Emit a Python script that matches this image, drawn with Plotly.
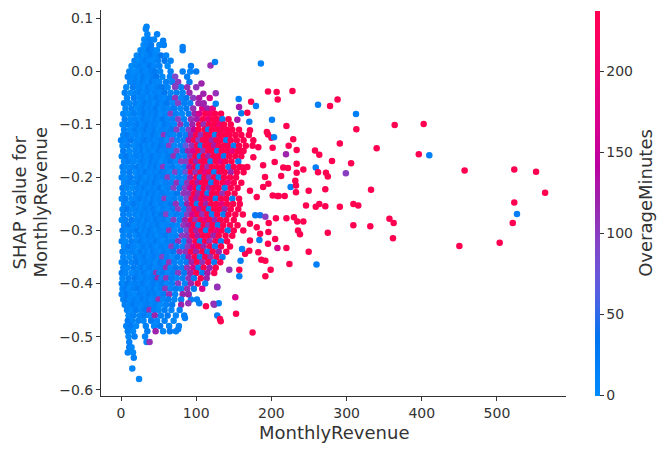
import math
import plotly.graph_objects as go

# ---------------- data ----------------
# Dense part of the cloud, grouped by SHAP value level (one row per level)
ROW_SHAP = [0.08, 0.07, 0.06, 0.05, 0.04, 0.03, 0.02, 0.01, 0.00,
            -0.01, -0.02, -0.03, -0.04, -0.05, -0.06, -0.07, -0.08, -0.09, -0.10,
            -0.11, -0.12, -0.13, -0.14, -0.15, -0.16, -0.17, -0.18, -0.19, -0.20,
            -0.21, -0.22, -0.23, -0.24, -0.25, -0.26, -0.27, -0.28, -0.29, -0.30,
            -0.31, -0.32, -0.33, -0.34, -0.35, -0.36, -0.37, -0.38, -0.39, -0.40,
            -0.41, -0.42, -0.43, -0.44, -0.45, -0.46, -0.47, -0.48, -0.49, -0.50,
            -0.51, -0.52, -0.53, -0.54, -0.56, -0.58]

ROW_REVENUE = [
    [33],
    [35, 48],
    [31, 38, 44],
    [30, 34, 40, 51, 57],
    [26, 32, 37, 43, 48, 82],
    [21, 27, 31, 35, 40, 46, 53, 60],
    [18, 24, 29, 33, 37, 42, 49, 58, 66],
    [14, 21, 27, 31, 35, 39, 44, 51, 62, 93],
    [11, 17, 23, 28, 32, 36, 40, 45, 52, 66, 82, 92, 100],
    [9, 15, 21, 26, 30, 34, 38, 42, 47, 55, 65, 72, 88],
    [12, 19, 25, 29, 33, 37, 41, 45, 51, 60, 68, 76, 91],
    [7, 16, 23, 28, 32, 36, 40, 44, 49, 55, 62, 72, 80, 88, 100],
    [5, 13, 20, 26, 30, 34, 38, 42, 46, 51, 58, 66, 74, 82, 91],
    [8, 17, 24, 28, 32, 36, 40, 44, 48, 53, 59, 65, 72, 80, 87, 96, 104, 118],
    [4, 11, 19, 25, 29, 33, 37, 41, 45, 50, 55, 61, 69, 76, 84, 92, 103, 110],
    [6, 14, 21, 27, 31, 35, 39, 43, 47, 52, 57, 64, 71, 79, 87, 96, 108, 115, 122],
    [3, 10, 17, 24, 28, 32, 36, 40, 44, 48, 53, 59, 66, 73, 81, 90, 98, 104, 112, 118, 125, 133],
    [5, 13, 20, 26, 30, 34, 38, 42, 46, 50, 56, 62, 69, 76, 84, 93, 101, 109, 116, 122, 128, 135, 143],
    [2, 9, 16, 23, 28, 32, 36, 40, 44, 48, 53, 58, 64, 71, 79, 87, 95, 104, 110, 117, 124, 131, 137, 146],
    [4, 12, 19, 25, 30, 34, 38, 42, 46, 50, 55, 61, 67, 74, 82, 90, 97, 103, 111, 116, 121, 128, 134, 141, 148, 157],
    [3, 8, 15, 22, 27, 31, 35, 39, 43, 47, 52, 57, 63, 70, 78, 86, 93, 100, 106, 113, 119, 125, 131, 138, 144, 152, 160, 170],
    [0, 6, 13, 20, 26, 30, 34, 38, 42, 46, 50, 55, 61, 68, 75, 83, 90, 97, 103, 109, 115, 121, 127, 133, 140, 146, 154, 163],
    [2, 9, 17, 23, 28, 32, 36, 40, 44, 48, 53, 58, 64, 71, 79, 86, 94, 101, 106, 112, 118, 124, 130, 137, 143, 150, 157, 166, 175],
    [3, 11, 19, 25, 29, 33, 37, 41, 45, 50, 55, 61, 67, 74, 82, 89, 96, 103, 109, 116, 122, 128, 134, 141, 148, 155, 163],
    [1, 7, 14, 21, 27, 31, 35, 39, 43, 47, 52, 57, 63, 70, 77, 85, 92, 99, 105, 110, 116, 123, 130, 137, 144, 152, 160],
    [4, 10, 17, 24, 29, 33, 37, 41, 45, 49, 54, 60, 66, 73, 80, 87, 94, 100, 107, 113, 119, 126, 133, 139, 147, 156],
    [2, 8, 15, 22, 27, 31, 35, 39, 43, 47, 51, 56, 62, 69, 76, 84, 91, 98, 103, 109, 115, 121, 128, 135, 143, 150, 158, 168],
    [3, 11, 19, 25, 29, 33, 37, 41, 45, 49, 54, 59, 65, 72, 79, 86, 93, 99, 106, 112, 118, 124, 131, 138, 146, 154, 163],
    [1, 6, 13, 21, 27, 31, 35, 39, 43, 47, 51, 56, 62, 69, 77, 85, 92, 100, 105, 111, 117, 124, 130, 137, 145, 153],
    [4, 10, 17, 24, 29, 33, 37, 41, 45, 49, 54, 60, 67, 74, 81, 88, 95, 102, 108, 114, 120, 127, 135, 142, 150, 160],
    [2, 8, 15, 22, 27, 31, 35, 39, 43, 47, 52, 57, 63, 70, 78, 85, 92, 99, 104, 110, 117, 123, 130, 138, 146, 155],
    [3, 11, 19, 25, 29, 33, 37, 41, 45, 50, 55, 61, 68, 75, 83, 90, 97, 103, 109, 115, 121, 128, 135, 142, 151],
    [1, 6, 14, 21, 27, 31, 35, 39, 43, 47, 52, 58, 64, 71, 79, 87, 94, 100, 107, 113, 119, 126, 133, 140, 148, 157],
    [4, 10, 17, 24, 29, 33, 37, 41, 45, 49, 54, 60, 66, 73, 81, 88, 95, 101, 107, 113, 120, 127, 134, 141, 149, 158],
    [2, 8, 15, 22, 27, 31, 35, 39, 43, 47, 51, 56, 62, 69, 76, 84, 91, 98, 104, 111, 117, 124, 131, 138, 146, 156],
    [3, 11, 19, 25, 29, 33, 37, 41, 45, 49, 54, 60, 67, 74, 81, 88, 95, 102, 108, 115, 121, 128, 136, 143, 152, 162],
    [1, 6, 14, 21, 27, 31, 35, 39, 43, 47, 52, 57, 63, 70, 78, 85, 93, 99, 106, 112, 118, 125, 132, 140, 150],
    [4, 10, 17, 24, 29, 33, 37, 41, 45, 50, 55, 61, 68, 75, 83, 90, 97, 103, 110, 116, 122, 129, 136, 145, 155],
    [2, 8, 15, 22, 27, 31, 35, 39, 43, 47, 52, 58, 64, 71, 79, 87, 94, 100, 107, 113, 120, 127, 134, 142, 150],
    [3, 11, 19, 25, 29, 33, 37, 41, 45, 49, 54, 60, 66, 73, 81, 88, 95, 102, 109, 116, 123, 130, 139, 148],
    [1, 6, 14, 21, 27, 31, 35, 39, 43, 47, 51, 56, 62, 69, 76, 84, 91, 99, 105, 112, 118, 126, 133, 141],
    [4, 10, 17, 24, 29, 33, 37, 41, 45, 49, 54, 60, 67, 74, 82, 89, 96, 103, 110, 118, 125, 133, 145],
    [2, 8, 15, 22, 27, 31, 35, 39, 43, 47, 52, 57, 63, 70, 78, 86, 93, 100, 108, 115, 122, 130, 140],
    [3, 11, 19, 25, 29, 33, 37, 41, 45, 50, 55, 61, 68, 75, 83, 90, 98, 105, 112, 119, 127, 135],
    [1, 6, 14, 21, 27, 31, 35, 39, 43, 47, 52, 58, 64, 71, 79, 87, 94, 101, 108, 116, 124, 132],
    [3, 9, 17, 24, 29, 33, 37, 41, 45, 49, 54, 60, 66, 73, 81, 88, 96, 103, 110, 118, 126],
    [1, 6, 14, 21, 27, 31, 35, 39, 43, 47, 51, 56, 62, 69, 76, 84, 92, 100, 108, 115, 124],
    [2, 10, 18, 25, 29, 33, 37, 41, 45, 49, 54, 60, 67, 74, 82, 90, 97, 106, 114],
    [1, 5, 9, 14, 20, 26, 30, 34, 38, 42, 46, 50, 55, 61, 68, 76, 85, 93, 102, 112],
    [2, 6, 11, 17, 23, 28, 32, 36, 40, 44, 48, 53, 59, 66, 73, 80, 88, 97, 108],
    [1, 4, 8, 13, 19, 25, 30, 34, 38, 42, 46, 51, 57, 64, 72, 82, 90],
    [3, 7, 12, 18, 24, 29, 33, 37, 41, 45, 50, 56, 63, 71, 80, 93],
    [5, 10, 16, 22, 28, 32, 36, 41, 46, 52, 60, 68, 80],
    [8, 14, 20, 27, 33, 38, 44, 50, 58, 67, 78],
    [10, 17, 25, 31, 38, 45, 53, 62, 73, 84],
    [9, 15, 23, 30, 40, 48, 58, 70],
    [7, 13, 20, 33, 44, 52, 64, 77],
    [9, 16, 35, 46, 56, 65, 73],
    [10, 18, 32],
    [11, 34, 38],
    [11, 14],
    [9, 16],
    [17],
    [15],
    [24],
]

ROW_OVERAGE = [
    [12],
    [8, 15],
    [5, 20, 10],
    [0, 12, 25, 8, 18],
    [10, 4, 30, 15, 0, 20],
    [6, 18, 0, 10, 22, 5, 35, 12],
    [15, 0, 8, 25, 12, 4, 18, 30, 10],
    [0, 10, 20, 5, 14, 30, 8, 16, 2, 25],
    [12, 0, 6, 22, 10, 3, 18, 28, 9, 15, 20, 10, 30],
    [20, 5, 14, 0, 26, 11, 7, 19, 33, 2, 12, 90, 18],
    [8, 16, 3, 24, 12, 0, 29, 10, 6, 20, 14, 100, 25],
    [4, 22, 10, 15, 0, 28, 12, 6, 19, 30, 9, 95, 15, 110, 105],
    [18, 0, 12, 26, 7, 14, 21, 3, 16, 10, 32, 8, 20, 15, 115],
    [10, 25, 4, 13, 20, 0, 17, 9, 28, 14, 6, 22, 105, 12, 30, 100, 130, 170],
    [15, 6, 20, 0, 11, 27, 9, 16, 3, 22, 12, 30, 7, 95, 18, 20, 120, 105],
    [9, 18, 2, 14, 25, 6, 19, 11, 30, 4, 16, 10, 22, 8, 26, 110, 180, 120, 190],
    [12, 0, 21, 8, 15, 28, 5, 18, 10, 24, 2, 13, 100, 20, 7, 30, 120, 170, 240, 220, 240, 240],
    [20, 7, 14, 0, 26, 10, 17, 5, 22, 12, 30, 8, 18, 95, 15, 110, 130, 240, 190, 240, 240, 20, 240],
    [5, 18, 10, 24, 3, 15, 28, 8, 20, 12, 0, 25, 16, 6, 110, 22, 120, 240, 110, 240, 240, 200, 240, 240],
    [14, 2, 22, 9, 17, 30, 6, 13, 25, 0, 19, 10, 28, 100, 7, 100, 150, 240, 240, 20, 240, 240, 240, 240, 240, 240],
    [10, 24, 5, 16, 0, 21, 12, 8, 27, 15, 3, 105, 20, 11, 29, 18, 120, 240, 110, 240, 240, 15, 240, 240, 240, 240, 240, 240],
    [18, 8, 26, 12, 4, 19, 30, 10, 22, 6, 15, 25, 2, 90, 14, 20, 130, 240, 100, 240, 240, 120, 240, 240, 20, 240, 240, 240],
    [6, 20, 0, 14, 27, 9, 17, 3, 24, 11, 30, 18, 100, 5, 22, 70, 110, 240, 20, 240, 240, 130, 240, 240, 240, 20, 240, 240, 240],
    [22, 4, 15, 9, 28, 0, 18, 12, 6, 25, 14, 20, 8, 95, 30, 120, 170, 240, 110, 240, 240, 20, 240, 240, 190, 240, 240],
    [12, 26, 3, 17, 8, 21, 0, 14, 29, 10, 19, 5, 24, 110, 16, 10, 110, 240, 20, 240, 120, 240, 240, 25, 240, 240, 240],
    [8, 18, 11, 0, 23, 15, 6, 27, 12, 20, 2, 16, 30, 9, 100, 100, 240, 120, 240, 240, 20, 240, 180, 240, 240, 20],
    [20, 5, 13, 26, 9, 17, 0, 22, 11, 28, 7, 105, 15, 24, 3, 19, 130, 240, 15, 240, 110, 240, 240, 240, 20, 240, 240, 240],
    [10, 24, 2, 16, 8, 30, 13, 5, 20, 11, 26, 18, 0, 95, 14, 80, 240, 110, 240, 180, 240, 20, 240, 240, 120, 240, 240],
    [16, 3, 21, 9, 25, 12, 0, 18, 7, 27, 14, 22, 100, 5, 19, 12, 120, 240, 15, 240, 110, 240, 20, 240, 240, 240],
    [6, 19, 11, 28, 2, 15, 23, 9, 30, 13, 4, 20, 17, 110, 8, 110, 240, 130, 240, 240, 20, 240, 240, 190, 240, 240],
    [24, 10, 0, 17, 8, 26, 14, 5, 21, 12, 29, 3, 18, 95, 25, 100, 160, 240, 20, 240, 120, 240, 240, 20, 240, 240],
    [13, 2, 20, 7, 16, 0, 27, 11, 19, 6, 24, 14, 9, 30, 105, 110, 240, 120, 240, 20, 240, 240, 110, 240, 240],
    [9, 22, 5, 15, 28, 11, 19, 2, 25, 8, 17, 100, 12, 20, 6, 80, 240, 130, 240, 180, 240, 20, 240, 240, 20, 240],
    [17, 4, 25, 12, 0, 20, 9, 30, 14, 6, 22, 10, 27, 110, 15, 120, 240, 15, 240, 120, 240, 240, 190, 240, 240, 240],
    [11, 27, 6, 18, 3, 14, 23, 8, 29, 16, 1, 21, 10, 26, 100, 20, 110, 240, 130, 240, 20, 240, 240, 120, 240, 240],
    [20, 8, 14, 1, 24, 10, 18, 5, 27, 12, 30, 95, 7, 19, 15, 100, 170, 240, 110, 240, 20, 240, 20, 240, 240, 240],
    [5, 16, 26, 10, 19, 2, 22, 13, 7, 28, 15, 24, 4, 100, 18, 120, 240, 110, 240, 180, 240, 120, 240, 240, 240],
    [14, 28, 3, 17, 9, 23, 0, 19, 11, 26, 6, 15, 21, 8, 105, 130, 240, 15, 240, 110, 240, 20, 240, 240, 240],
    [22, 7, 13, 30, 4, 18, 10, 25, 16, 1, 20, 12, 110, 6, 27, 80, 240, 120, 240, 20, 240, 190, 240, 20, 240],
    [9, 19, 2, 24, 14, 6, 28, 11, 21, 0, 17, 26, 8, 15, 100, 110, 240, 130, 240, 240, 120, 240, 240, 240],
    [17, 3, 23, 10, 27, 13, 5, 20, 9, 30, 15, 2, 19, 25, 110, 12, 120, 240, 15, 240, 110, 240, 20, 240],
    [6, 26, 12, 0, 18, 22, 8, 29, 14, 3, 20, 11, 100, 24, 16, 100, 170, 240, 120, 240, 20, 240, 240],
    [21, 9, 16, 4, 25, 11, 19, 1, 27, 13, 7, 23, 15, 30, 110, 110, 240, 120, 240, 20, 240, 120, 240],
    [12, 0, 24, 8, 17, 28, 5, 15, 22, 10, 95, 19, 2, 26, 14, 130, 240, 20, 240, 110, 240, 20],
    [8, 20, 13, 27, 3, 16, 24, 9, 19, 0, 29, 12, 105, 18, 6, 22, 120, 240, 110, 240, 20, 240],
    [15, 5, 22, 11, 28, 2, 18, 25, 7, 14, 21, 110, 10, 30, 17, 110, 170, 20, 240, 120, 240],
    [24, 12, 4, 18, 9, 26, 15, 0, 21, 110, 13, 28, 6, 19, 100, 25, 120, 240, 20, 130, 240],
    [7, 19, 28, 14, 3, 22, 10, 17, 30, 115, 12, 105, 24, 8, 20, 110, 20, 240, 120],
    [16, 4, 25, 11, 20, 8, 27, 14, 2, 19, 23, 10, 29, 6, 17, 100, 12, 120, 240, 20],
    [10, 22, 3, 17, 28, 13, 6, 20, 11, 26, 0, 18, 105, 14, 24, 9, 110, 20, 170],
    [19, 7, 27, 12, 2, 23, 16, 8, 30, 14, 21, 5, 25, 110, 11, 120, 20],
    [12, 25, 5, 18, 9, 28, 14, 21, 3, 16, 110, 10, 22, 7, 19, 20],
    [20, 8, 26, 13, 4, 17, 24, 10, 19, 2, 15, 28, 120],
    [14, 3, 22, 9, 27, 110, 16, 6, 20, 12, 18],
    [6, 19, 11, 24, 2, 120, 15, 28, 9, 20],
    [22, 10, 17, 5, 25, 12, 20, 8],
    [13, 24, 4, 18, 9, 27, 11, 16],
    [18, 7, 22, 120, 10, 25, 14],
    [5, 20, 12],
    [16, 8, 110],
    [22, 9],
    [14, 3],
    [18],
    [10],
    [7],
]

# Scattered individual points (mostly the sparse right-hand part)
OUT_REVENUE = [288, 312.5, 313, 364, 402.5, 291, 340, 396, 410, 306, 299, 457, 523, 552,
               332.5, 564, 291, 309, 315.5, 523, 526.6, 357, 362.6, 309, 331.5, 521, 361.7,
               450, 503.6,
               119, 125, 186, 107, 109.5, 126, 195.5, 207, 228, 208.4, 109.5, 126, 156.5, 157,
               173, 179.5, 262, 278, 160, 168, 154.7, 170.6, 200.8, 220, 195.5, 200, 203.5, 229,
               223, 233.6, 201.7, 258, 263.7, 219.4, 204.4, 233.6, 215.8, 222, 242.5, 259, 262,
               272.6, 275, 280.6, 213, 233.6, 231.8, 225.6, 232.7, 249.6, 271.7, 201.7, 209.7,
               171.5, 176, 182.6, 176, 189, 196, 189, 171.5, 180.5, 158, 162.6, 191.5, 194,
               208, 217.7, 232.7, 246, 259, 263.7, 271.7, 220, 230, 234.5, 242.5, 235.4, 238,
               275, 206, 178.6, 185, 192, 196.4, 205, 208, 220, 249.6, 184, 195.5, 192, 186.6,
               199, 192, 224, 260, 170.6, 159, 157.3, 157.3, 144, 128, 152, 113, 124, 130, 128,
               131.6, 132.6, 153, 175,
               162.6, 171.5, 180.5, 185, 182.6, 165, 196, 171.5, 161,
               89.5, 89.5, 101, 104, 123, 85, 76, 128, 72, 56, 34, 82]
OUT_SHAP = [-0.053, -0.0805, -0.109, -0.101, -0.099, -0.136, -0.145, -0.156, -0.158, -0.173,
            -0.192, -0.187, -0.185, -0.189, -0.223, -0.229, -0.255, -0.250, -0.253, -0.247,
            -0.269, -0.278, -0.286, -0.290, -0.292, -0.286, -0.3145, -0.329, -0.323,
            0.011, 0.0176, 0.015, -0.023, -0.042, -0.041, -0.038, -0.039, -0.037, -0.053,
            -0.061, -0.061, -0.052, -0.067, -0.057, -0.065, -0.063, -0.065, -0.079, -0.078,
            -0.091, -0.095, -0.091, -0.103, -0.119, -0.125, -0.124, -0.128, -0.140, -0.148,
            -0.144, -0.149, -0.157, -0.156, -0.171, -0.174, -0.181, -0.182, -0.185, -0.181,
            -0.19, -0.191, -0.198, -0.169, -0.197, -0.191, -0.206, -0.218, -0.215, -0.225,
            -0.222, -0.234, -0.235,
            -0.111, -0.130, -0.143, -0.162, -0.177, -0.212, -0.218, -0.225, -0.237, -0.149,
            -0.181, -0.199, -0.114,
            -0.235, -0.235, -0.228, -0.253, -0.255, -0.25, -0.254, -0.277, -0.275, -0.283,
            -0.283, -0.300, -0.307, -0.304, -0.277, -0.271, -0.271, -0.274, -0.286, -0.316,
            -0.333, -0.333, -0.340, -0.318, -0.325, -0.357, -0.355, -0.374, -0.386, -0.363,
            -0.364, -0.338, -0.357, -0.374, -0.386, -0.374, -0.407, -0.426, -0.443, -0.440,
            -0.437, -0.460, -0.467, -0.471, -0.457, -0.4925,
            -0.300, -0.287, -0.294, -0.306, -0.341, -0.344, -0.303, -0.319, -0.335,
            -0.437, -0.42, -0.43, -0.437, -0.438, -0.465, -0.486, -0.406, -0.028, 0.058,
            0.084, 0.046]
OUT_OVERAGE = [240, 20, 240, 240, 240, 240, 240, 240, 20, 240, 100, 240, 240, 240,
               240, 240, 240, 240, 240, 240, 20, 240, 240, 240, 240, 240, 240,
               240, 240,
               110, 20, 20, 120, 120, 110, 240, 240, 240, 240, 120, 20, 20, 130,
               240, 20, 20, 240, 20, 240, 130, 20, 20, 240, 240, 240, 20, 240,
               240, 240, 240, 240, 240, 120, 240, 240, 240, 240, 240, 20, 240,
               240, 240, 240, 240, 240, 240, 20, 240, 240, 240, 240, 240,
               240, 240, 240, 240, 240, 240, 240, 240, 240, 240, 240, 240, 240,
               240, 240, 240, 240, 240, 240, 240, 240, 240, 240, 240, 240, 240,
               240, 240, 30, 40, 100, 240, 240, 170, 240, 240, 20, 240, 240, 240,
               240, 240, 240, 20, 240, 20, 240, 20, 110, 110, 170, 240, 110, 20, 20,
               240, 240, 240, 240,
               240, 240, 240, 240, 240, 240, 240, 240, 20,
               110, 120, 20, 20, 110, 20, 20, 110, 100, 20, 10, 20]

X_TICKS = [0, 100, 200, 300, 400, 500]
Y_TICKS = [-0.6, -0.5, -0.4, -0.3, -0.2, -0.1, 0.0, 0.1]
C_TICKS = [0, 50, 100, 150, 200]
C_MAX = 237.6

# ---------------- assemble ----------------
revenue, shap_vals, overage = [], [], []
for yv, xs, cs in zip(ROW_SHAP, ROW_REVENUE, ROW_OVERAGE):
    if len(xs) != len(cs):
        raise ValueError(f"row {yv}: {len(xs)} vs {len(cs)}")
    revenue += xs
    shap_vals += [yv] * len(xs)
    overage += cs
if not (len(OUT_REVENUE) == len(OUT_SHAP) == len(OUT_OVERAGE)):
    raise ValueError(f"outliers {len(OUT_REVENUE)} {len(OUT_SHAP)} {len(OUT_OVERAGE)}")
revenue += OUT_REVENUE
shap_vals += OUT_SHAP
overage += OUT_OVERAGE


# ---------------- SHAP red-blue colour scale (LCH interpolation) ----------------
def lch_to_rgb(L, C, H):
    a = C * math.cos(H)
    b = C * math.sin(H)
    fy = (L + 16) / 116
    fx = fy + a / 500
    fz = fy - b / 200

    def finv(t):
        return t ** 3 if t ** 3 > 0.008856 else (t - 16 / 116) / 7.787

    X = 0.95047 * finv(fx)
    Y = finv(fy)
    Z = 1.08883 * finv(fz)
    r = 3.2406 * X - 1.5372 * Y - 0.4986 * Z
    g = -0.9689 * X + 1.8758 * Y + 0.0415 * Z
    bb = 0.0557 * X - 0.2040 * Y + 1.0570 * Z

    def gam(v):
        v = 1.055 * v ** (1 / 2.4) - 0.055 if v > 0.0031308 else 12.92 * v
        return int(round(255 * min(1.0, max(0.0, v))))

    return f"rgb({gam(r)},{gam(g)},{gam(bb)})"


blue_lch = (54.0, 70.0, 4.6588)
red_lch = (54.0, 90.0, 0.35470565 + 2 * math.pi)
l_mid = 40.0
scale = []
n = 21
for i in range(n):
    t = i / (n - 1)
    L = blue_lch[0] + (l_mid - blue_lch[0]) * (t / 0.5) if t <= 0.5 else l_mid + (red_lch[0] - l_mid) * ((t - 0.5) / 0.5)
    C = blue_lch[1] + (red_lch[1] - blue_lch[1]) * t
    H = blue_lch[2] + (red_lch[2] - blue_lch[2]) * t
    scale.append([t, lch_to_rgb(L, C, H)])

FONT = "DejaVu Sans"
TXT = "#333333"

# The page body adds an 8 px margin, so the figure is 8 px smaller and
# its margins are 8 px tighter on the left/top to land in the same place.
ML, MT, MR, MB = 93, 2, 106, 57
PW, PH = 465, 386

fig = go.Figure(
    go.Scatter(
        x=revenue,
        y=shap_vals,
        mode="markers",
        marker=dict(
            size=6.5,
            color=overage,
            colorscale=scale,
            cmin=0,
            cmax=C_MAX,
            line=dict(width=0),
            colorbar=dict(
                thickness=5,
                thicknessmode="pixels",
                len=385 / PH,
                lenmode="fraction",
                y=0.5,
                yanchor="middle",
                x=(595 - 101) / PW,
                xanchor="left",
                xpad=0,
                ypad=0,
                outlinewidth=0,
                ticks="outside",
                ticklen=4,
                tickwidth=1,
                tickcolor=TXT,
                tickvals=C_TICKS,
                tickfont=dict(family=FONT, size=14, color=TXT),
                title=dict(text="OverageMinutes", side="right",
                           font=dict(family=FONT, size=18, color=TXT)),
            ),
        ),
        hoverinfo="skip",
        showlegend=False,
    )
)

fig.update_layout(
    width=ML + PW + MR,
    height=MT + PH + MB,
    margin=dict(l=ML, r=MR, t=MT, b=MB, pad=0),
    paper_bgcolor="white",
    plot_bgcolor="white",
    font=dict(family=FONT, size=14, color=TXT),
    xaxis=dict(
        range=[-26.6, 591.8],
        showline=True, linecolor=TXT, linewidth=1,
        ticks="outside", ticklen=4, tickwidth=1, tickcolor=TXT,
        tickvals=X_TICKS,
        tickfont=dict(family=FONT, size=14, color=TXT),
        showgrid=False, zeroline=False, mirror=False,
    ),
    yaxis=dict(
        range=[-0.612, 0.1158],
        showline=True, linecolor=TXT, linewidth=1,
        ticks="outside", ticklen=4, tickwidth=1, tickcolor=TXT,
        tickvals=Y_TICKS, tickformat=".1f",
        tickfont=dict(family=FONT, size=14, color=TXT),
        showgrid=False, zeroline=False, mirror=False,
    ),
    annotations=[
        dict(text="MonthlyRevenue", xref="paper", yref="paper",
             x=0.5, y=(396 - 433) / PH, xanchor="center", yanchor="middle",
             showarrow=False, font=dict(family=FONT, size=18, color=TXT)),
        dict(text="SHAP value for", xref="paper", yref="paper",
             x=(18.5 - 101) / PW, y=0.5, xanchor="center", yanchor="middle",
             textangle=-90, showarrow=False, borderpad=0,
             font=dict(family=FONT, size=18, color=TXT)),
        dict(text="MonthlyRevenue", xref="paper", yref="paper",
             x=(39.5 - 101) / PW, y=0.5, xanchor="center", yanchor="middle",
             textangle=-90, showarrow=False, borderpad=0,
             font=dict(family=FONT, size=18, color=TXT)),
    ],
)

fig.write_html("out.html")
